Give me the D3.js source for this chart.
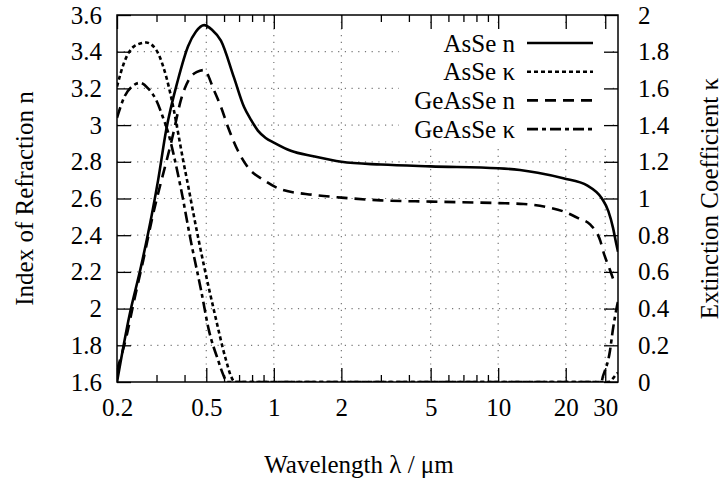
<!DOCTYPE html>
<html>
<head>
<meta charset="utf-8">
<script src="https://cdn.jsdelivr.net/npm/d3@7"></script>
<style>
  body { margin: 0; background: #fff; }
  svg text { font-family: "Liberation Serif", "Times New Roman", "DejaVu Serif", serif; fill: #000; }
</style>
</head>
<body>
<div id="chart"></div>
<script>
// Data
var wlAsSeN = [0.2, 0.227, 0.256, 0.2857, 0.305, 0.331, 0.3745, 0.4148, 0.45, 0.489, 0.53, 0.581, 0.664, 0.736, 0.79, 0.849, 0.92, 1.0, 1.19, 1.5, 2, 3, 5, 10, 12.5, 15, 19.5, 25, 29, 31, 32.5, 33.5, 34.2];
var nAsSe   = [1.6, 1.96, 2.23, 2.51, 2.70, 2.97, 3.25, 3.43, 3.51, 3.545, 3.52, 3.46, 3.26, 3.10, 3.03, 2.97, 2.93, 2.905, 2.86, 2.83, 2.80, 2.785, 2.775, 2.765, 2.755, 2.74, 2.71, 2.67, 2.60, 2.53, 2.44, 2.36, 2.31];

var wlGeN   = [0.2, 0.22, 0.239, 0.262, 0.2843, 0.3557, 0.386, 0.419, 0.455, 0.489, 0.541, 0.581, 0.6246, 0.692, 0.766, 0.903, 1.074, 1.5, 2, 3, 5, 10, 13, 17, 19.5, 23, 25.6, 28.5, 29.6, 31.5, 33];
var nGeAsSe = [1.665, 1.845, 2.05, 2.265, 2.47, 2.95, 3.14, 3.25, 3.29, 3.30, 3.19, 3.10, 2.99, 2.86, 2.77, 2.70, 2.65, 2.62, 2.605, 2.59, 2.583, 2.575, 2.57, 2.55, 2.53, 2.49, 2.46, 2.37, 2.30, 2.21, 2.14];

var wlAsSeK = [0.2, 0.215, 0.239, 0.27, 0.299, 0.325, 0.356, 0.378, 0.394, 0.415, 0.441, 0.489, 0.541, 0.612, 0.645, 0.67, 1, 10, 31, 32.5, 33.5, 34.2];
var kAsSe   = [1.61, 1.74, 1.83, 1.85, 1.81, 1.70, 1.50, 1.33, 1.21, 1.07, 0.90, 0.63, 0.39, 0.12, 0.03, 0, 0, 0, 0, 0.02, 0.04, 0.05];

var wlGeK   = [0.2, 0.215, 0.239, 0.253, 0.275, 0.298, 0.321, 0.338, 0.356, 0.386, 0.428, 0.474, 0.514, 0.564, 0.595, 0.62, 1, 10, 28.8, 29.3, 31.5, 32.4, 33.8, 34.2];
var kGeAsSe = [1.44, 1.55, 1.62, 1.63, 1.60, 1.54, 1.44, 1.36, 1.25, 1.05, 0.76, 0.50, 0.28, 0.12, 0.04, 0, 0, 0, 0, 0.03, 0.17, 0.28, 0.41, 0.44];

var xMajor = [0.2, 0.5, 1, 2, 5, 10, 20, 30];
var xMinor = [0.3, 0.4, 0.6, 0.7, 0.8, 0.9, 3, 4, 6, 7, 8, 9];
var xGrid  = [0.5, 1, 2, 5, 10, 20, 30];
var nTicks = [1.6, 1.8, 2, 2.2, 2.4, 2.6, 2.8, 3, 3.2, 3.4, 3.6];
var kTicks = [0, 0.2, 0.4, 0.6, 0.8, 1, 1.2, 1.4, 1.6, 1.8, 2];

var seriesNames = ["AsSe n", "AsSe \u03ba", "GeAsSe n", "GeAsSe \u03ba"];

// Layout
var width = 722, height = 480,
    margin = {top: 15, right: 104, bottom: 98, left: 117},
    plotW = width - margin.left - margin.right,
    plotH = height - margin.top - margin.bottom;
var serif = '"Liberation Serif", "Times New Roman", "DejaVu Serif", serif';

var svg = d3.select('#chart').append('svg')
    .attr('width', width)
    .attr('height', height);
var g = svg.append('g')
    .attr('transform', 'translate(' + margin.left + ',' + margin.top + ')');

var x = d3.scaleLog().domain([0.2, 34.2]).range([0, plotW]);
var yN = d3.scaleLinear().domain([1.6, 3.6]).range([plotH, 0]);
var yK = d3.scaleLinear().domain([0, 2]).range([plotH, 0]);

// grid
g.selectAll('.hgrid').data(nTicks.slice(1, -1))
  .enter().append('line')
    .attr('x1', 0).attr('x2', plotW)
    .attr('y1', function(d) {return yN(d);})
    .attr('y2', function(d) {return yN(d);})
    .attr('stroke', '#777').attr('stroke-width', 1.2)
    .attr('stroke-dasharray', '1.2,5.5');
g.selectAll('.vgrid').data(xGrid)
  .enter().append('line')
    .attr('y1', 0).attr('y2', plotH)
    .attr('x1', function(d) {return x(d);})
    .attr('x2', function(d) {return x(d);})
    .attr('stroke', '#777').attr('stroke-width', 1.2)
    .attr('stroke-dasharray', '1.2,5.5');

// curves
g.append('clipPath').attr('id', 'clip')
  .append('rect').attr('width', plotW).attr('height', plotH);

var series = [
  {wl: wlAsSeN, v: nAsSe, y: yN, dash: null},
  {wl: wlAsSeK, v: kAsSe, y: yK, dash: '4,3'},
  {wl: wlGeN, v: nGeAsSe, y: yN, dash: '11,7'},
  {wl: wlGeK, v: kGeAsSe, y: yK, dash: '11,4,4,4'}
];

series.forEach(function(s) {
  var line = d3.line()
      .x(function(d, i) {return x(s.wl[i]);})
      .y(function(d) {return s.y(d);})
      .curve(d3.curveMonotoneX);
  g.append('path')
      .attr('d', line(s.v))
      .attr('clip-path', 'url(#clip)')
      .attr('fill', 'none')
      .attr('stroke', '#000')
      .attr('stroke-width', 2.6)
      .attr('stroke-dasharray', s.dash);
});

// legend (opaque box, no border)
var legend = g.append('g');
legend.append('rect')
    .attr('x', 282).attr('y', 13)
    .attr('width', 212).attr('height', 120)
    .attr('fill', '#fff');
series.forEach(function(s, i) {
  var cy = 28 + i * 28.7;
  legend.append('text')
      .attr('x', 398).attr('y', cy)
      .attr('dy', '0.35em')
      .attr('text-anchor', 'end')
      .attr('font-family', serif)
      .style('font-size', '25px')
      .text(seriesNames[i]);
  legend.append('line')
      .attr('x1', 410).attr('x2', 476)
      .attr('y1', cy).attr('y2', cy)
      .attr('stroke', '#000').attr('stroke-width', 2.6)
      .attr('stroke-dasharray', s.dash);
});

// axes (ticks inside, gnuplot style)
function styleAxis(sel) {
  sel.attr('font-family', serif);
  sel.select('.domain').remove();
  sel.selectAll('line').attr('stroke', '#000').attr('stroke-width', 1.3);
  sel.selectAll('text').style('font-size', '25px');
}

g.append('g').attr('transform', 'translate(0,' + plotH + ')')
  .call(d3.axisBottom(x).tickValues(xMajor).tickFormat(d3.format('')).tickSize(-14).tickPadding(16))
  .call(styleAxis);
g.append('g').attr('transform', 'translate(0,' + plotH + ')')
  .call(d3.axisBottom(x).tickValues(xMinor).tickFormat('').tickSize(-7))
  .call(styleAxis);
g.append('g')
  .call(d3.axisTop(x).tickValues(xMajor).tickFormat('').tickSize(-14))
  .call(styleAxis);
g.append('g')
  .call(d3.axisTop(x).tickValues(xMinor).tickFormat('').tickSize(-7))
  .call(styleAxis);
g.append('g')
  .call(d3.axisLeft(yN).tickValues(nTicks).tickFormat(d3.format('')).tickSize(-14).tickPadding(15))
  .call(styleAxis);
g.append('g').attr('transform', 'translate(' + plotW + ',0)')
  .call(d3.axisRight(yK).tickValues(kTicks).tickFormat(d3.format('')).tickSize(-14).tickPadding(20))
  .call(styleAxis);

// frame
g.append('rect')
    .attr('width', plotW).attr('height', plotH)
    .attr('fill', 'none').attr('stroke', '#000').attr('stroke-width', 1.5);

// axis titles
svg.append('text')
    .attr('transform', 'translate(' + 33 + ',' + (margin.top + plotH / 2) + ') rotate(-90)')
    .attr('text-anchor', 'middle')
    .attr('font-family', serif)
    .style('font-size', '25px')
    .text('Index of Refraction n');
svg.append('text')
    .attr('transform', 'translate(' + 718 + ',' + (margin.top + plotH / 2) + ') rotate(-90)')
    .attr('text-anchor', 'middle')
    .attr('font-family', serif)
    .style('font-size', '25px')
    .text('Extinction Coefficient \u03ba');
svg.append('text')
    .attr('x', 359).attr('y', 473)
    .attr('text-anchor', 'middle')
    .attr('font-family', serif)
    .style('font-size', '25px')
    .text('Wavelength \u03bb / \u03bcm');
</script>
</body>
</html>
